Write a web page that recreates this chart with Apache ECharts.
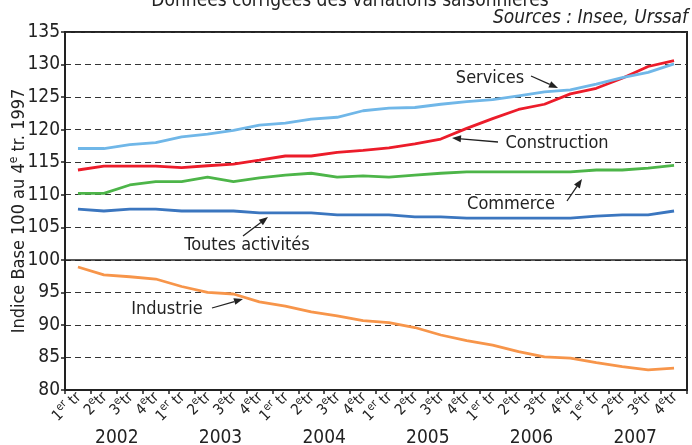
<!DOCTYPE html>
<html><head><meta charset="utf-8">
<script src="https://cdn.jsdelivr.net/npm/echarts@6/dist/echarts.min.js"></script>
<style>html,body{margin:0;padding:0;background:#fff}#c{width:692px;height:445px}</style>
</head><body><div id="c"></div>
<script>
const years = ['2002','2003','2004','2005','2006','2007'];
const quarterLabels = ['1er tr','2e tr','3e tr','4e tr'];
const categories = [];
years.forEach(y => quarterLabels.forEach(q => categories.push(q + ' ' + y)));

const services     = [117.1,117.1,117.7,118.0,118.9,119.3,119.9,120.7,121.0,121.6,121.9,122.9,123.3,123.4,123.9,124.3,124.6,125.2,125.8,126.1,127.0,128.0,128.8,130.1];
const construction = [113.8,114.4,114.4,114.4,114.15,114.45,114.7,115.3,115.95,115.95,116.5,116.8,117.2,117.8,118.55,120.2,121.7,123.1,123.9,125.5,126.35,127.9,129.7,130.6];
const commerce     = [110.2,110.2,111.5,112.0,112.0,112.7,112.0,112.6,113.0,113.3,112.7,112.9,112.7,113.0,113.3,113.5,113.5,113.5,113.5,113.5,113.8,113.8,114.1,114.5];
const toutes       = [107.8,107.5,107.8,107.8,107.5,107.5,107.5,107.2,107.2,107.2,106.9,106.9,106.9,106.6,106.6,106.4,106.4,106.4,106.4,106.4,106.7,106.9,106.9,107.5];
const industrie    = [98.9,97.7,97.4,97.05,95.9,95.0,94.75,93.55,92.9,92.0,91.4,90.65,90.35,89.6,88.45,87.6,86.9,85.9,85.1,84.9,84.2,83.6,83.1,83.35];

const yMin = 80, yMax = 135, yStep = 5;
const FONT = '"Liberation Sans Narrow","DejaVu Sans Condensed","Arial Narrow",sans-serif';
const TXT = '#222';

const chart = echarts.init(document.getElementById('c'), null, {renderer:'canvas'});

function line(name, data, color){
  return {name, type:'line', data, symbol:'none', smooth:false,
    lineStyle:{color, width:2.8}, itemStyle:{color}, z:3};
}

const option = {
  animation:false,
  backgroundColor:'#fff',
  grid:{left:65, right:5, top:32, bottom:55, containLabel:false, outerBoundsMode:'none',
    show:true, borderColor:'#222', borderWidth:2, backgroundColor:'transparent'},
  xAxis:[{
    type:'category', data:categories, boundaryGap:true,
    axisLine:{lineStyle:{color:'#222', width:2}},
    axisTick:{show:true, length:4, lineStyle:{color:'#222', width:1.5}},
    axisLabel:{
      interval:0, rotate:45, margin:4, color:TXT, fontFamily:FONT,
      formatter:(v, i) => {
        const q = i % 4;
        return q === 0 ? '{n|1}{s|er}{n| tr}' : '{n|' + (q+1) + '}{s|e}{n|tr}';
      },
      rich:{
        n:{fontSize:15, fontFamily:FONT, color:TXT, lineHeight:18, verticalAlign:'bottom'},
        s:{fontSize:11, fontFamily:FONT, color:TXT, lineHeight:11, verticalAlign:'top'}
      }
    },
    splitLine:{show:false}
  },{
    type:'category', data:years, position:'bottom', offset:31, gridIndex:0,
    axisLine:{show:false}, axisTick:{show:false}, splitLine:{show:false},
    axisLabel:{color:TXT, fontSize:19, fontFamily:FONT, interval:0}
  }],
  yAxis:{
    type:'value', min:yMin, max:yMax, interval:yStep,
    axisLine:{show:true, lineStyle:{color:'#222', width:2}},
    axisTick:{show:true, length:4, lineStyle:{color:'#222', width:1.5}},
    axisLabel:{color:TXT, fontSize:19, fontFamily:FONT, margin:5},
    splitLine:{show:true, lineStyle:{color:'#333', width:1.2, type:[6,4]}},
    name:'{a|Indice Base 100 au 4}{s|e}{a| tr. 1997}',
    nameLocation:'middle', nameRotate:90, nameGap:37, nameMoveOverlap:false,
    nameTextStyle:{
      rich:{
        a:{fontSize:18, fontFamily:FONT, color:TXT, lineHeight:20, verticalAlign:'bottom'},
        s:{fontSize:12, fontFamily:FONT, color:TXT, lineHeight:12, verticalAlign:'top'}
      }
    }
  },
  series:[
    Object.assign(line('Toutes activités', toutes, '#3b76bf'), {
      markLine:{silent:true, symbol:'none', label:{show:false},
        lineStyle:{color:'#222', type:'solid', width:1.5}, data:[{yAxis:100}]}
    }),
    line('Commerce', commerce, '#4db549'),
    line('Construction', construction, '#ec1c2a'),
    line('Services', services, '#70b7e8'),
    line('Industrie', industrie, '#f7954a')
  ]
};
chart.setOption(option);

// annotations
function arrow(x1,y1,x2,y2){
  const ang = Math.atan2(y2-y1, x2-x1), L = 9, W = 3.5;
  const bx = x2 - L*Math.cos(ang), by = y2 - L*Math.sin(ang);
  const px = -Math.sin(ang)*W, py = Math.cos(ang)*W;
  return [
    {type:'line', shape:{x1, y1, x2:bx, y2:by}, style:{stroke:'#222', lineWidth:1.3}, z:10},
    {type:'polygon', shape:{points:[[x2,y2],[bx+px,by+py],[bx-px,by-py]]}, style:{fill:'#222'}, z:10}
  ];
}
function label(text, x, y){
  return {type:'text', x, y, z:10,
    style:{text, fill:TXT, font:'18px ' + FONT, textAlign:'center', textVerticalAlign:'middle'}};
}
const g = [
  {type:'text', x:350, y:-8, z:10,
   style:{text:'Données corrigées des variations saisonnières', fill:TXT, font:'19px ' + FONT, textAlign:'center'}},
  {type:'text', x:688, y:9, z:10,
   style:{text:'Sources : Insee, Urssaf', fill:TXT, font:'italic 19px ' + FONT, textAlign:'right'}},
  label('Services', 490, 78),
  ...arrow(531, 76, 558, 88),
  label('Construction', 557, 143),
  ...arrow(498, 142, 452, 138),
  label('Commerce', 511, 204),
  ...arrow(567, 201, 582, 179),
  label('Toutes activités', 247, 245),
  ...arrow(243, 236, 268, 217),
  label('Industrie', 167, 309),
  ...arrow(212, 308, 243, 299)
];
chart.setOption({graphic:g});
</script>
</body></html>
